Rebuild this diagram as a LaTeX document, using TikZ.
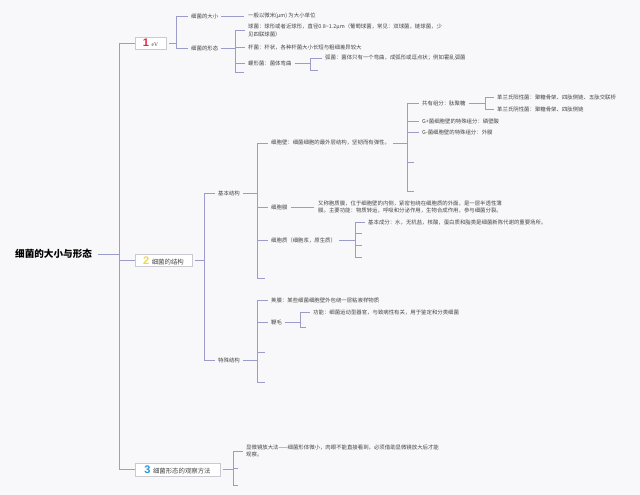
\documentclass[tikz,border=0pt]{standalone}
\usepackage{fontspec}
\newfontfamily\cjk{Noto Sans CJK SC}
\newfontfamily\numf{Liberation Sans}
\newfontfamily\serf{Liberation Serif}
\definecolor{bgc}{HTML}{F8F8FA}
\definecolor{lnc}{HTML}{9C9CCB}
\definecolor{txtc}{HTML}{454545}
\definecolor{boxc}{HTML}{CACAD2}
\definecolor{cone}{HTML}{E4253F}
\definecolor{ctwo}{HTML}{F2D64A}
\definecolor{cthree}{HTML}{2B95D6}
\tikzset{
  ln/.style={draw=lnc, line width=0.6pt},
  trunkln/.style={draw=lnc, line width=0.8pt},
  txt/.style={anchor=west, inner sep=0pt, font=\cjk\fontsize{5.4}{7.4}\selectfont, text=txtc, align=left},
  boxn/.style={draw=boxc, fill=white, line width=0.5pt, inner sep=0pt, font=\cjk\fontsize{6.4}{8}\selectfont, text=txtc},
  numtxt/.style={font=\numf\bfseries\fontsize{11}{11}\selectfont}
}
\newcommand\brk[3]{\draw[ln] ([xshift=3pt]#1.east) -- (#2) |- ([xshift=-3pt]#3.west);}
\newcommand\brke[3]{\draw[ln] ([xshift=3pt]#1.east) -- (#2) |- (#3);}
\newcommand\strt[2]{\draw[ln] ([xshift=3pt]#1.east) -- ([xshift=-4pt]#2.west);}
\begin{document}
\begin{tikzpicture}[x=1pt,y=-1pt]
\fill[bgc] (0,0) rectangle (640,495);
\useasboundingbox (0,0) rectangle (640,495);

% root
\node[anchor=west, inner sep=0pt, font=\cjk\bfseries\fontsize{9.6}{11}\selectfont, text=black] (root) at (15,254) {细菌的大小与形态};
\coordinate (T) at (119,254);

% main boxes
\node[boxn, minimum width=31pt, minimum height=12pt] (b1) at (150.5,43)
  {{\numf\bfseries\fontsize{11}{11}\selectfont\color{cone}1}\hspace{2.5pt}{\serf\fontsize{5.6}{6}\selectfont eV}};
\node[boxn, minimum width=57pt, minimum height=12pt] (b2) at (163.5,260.5)
  {{\numf\bfseries\fontsize{11}{11}\selectfont\color{ctwo}2}\hspace{2.5pt}细菌的结构};
\node[boxn, minimum width=85pt, minimum height=13pt] (b3) at (177.5,469.5)
  {{\numf\bfseries\fontsize{11}{11}\selectfont\color{cthree}3}\hspace{2.5pt}细菌形态的观察方法};

\draw[trunkln] ([xshift=6pt]root.east) -- (T);
\draw[trunkln] (T) |- (b1.west);
\draw[trunkln] (T) |- (b2.west);
\draw[trunkln] (T) |- (b3.west);

% ---------- branch 1
\coordinate (B1) at (176,43);
\node[txt] (n11) at (191,16) {细菌的大小};
\node[txt] (n12) at (191,48) {细菌的形态};
\brk{b1}{B1}{n11}
\brk{b1}{B1}{n12}

\node[txt] (n111) at (248,16) {一般以微米(μm) 为大小单位};
\strt{n11}{n111}

\coordinate (B12) at (235,48);
\node[txt] (n121) at (248,30.5) {球菌：球形或者近球形，直径0.8\textasciitilde 1.2μm（葡萄球菌，常见：双球菌，链球菌，少\\见四联球菌）};
\node[txt] (n122) at (248,47.5) {杆菌：杆状，各种杆菌大小长短与粗细差异较大};
\node[txt] (n123) at (248,63) {螺形菌：菌体弯曲};
\coordinate (e124) at (244,72);
\brk{n12}{B12}{n121}
\brk{n12}{B12}{n122}
\brk{n12}{B12}{n123}
\brke{n12}{B12}{e124}

\coordinate (B123) at (310,63);
\node[txt] (n1231) at (325,58) {弧菌：菌体只有一个弯曲，成弧形或逗点状；例如霍乱弧菌};
\coordinate (e1232) at (318,70);
\brk{n123}{B123}{n1231}
\brke{n123}{B123}{e1232}

% ---------- branch 2
\coordinate (B2) at (204,260.5);
\node[txt] (n21) at (218,193) {基本结构};
\node[txt] (n22) at (218,360) {特殊结构};
\brk{b2}{B2}{n21}
\brk{b2}{B2}{n22}

\coordinate (B21) at (257,193);
\node[txt] (n211) at (271,143) {细胞壁：细菌细胞的最外层结构，坚韧而有弹性。};
\node[txt] (n212) at (271,207) {细胞膜};
\node[txt] (n213) at (271,240.5) {细胞质（细胞浆，原生质）};
\coordinate (e214) at (265,278);
\brk{n21}{B21}{n211}
\brk{n21}{B21}{n212}
\brk{n21}{B21}{n213}
\brke{n21}{B21}{e214}

\coordinate (B211) at (407,143);
\node[txt] (n2111) at (422,103) {共有组分：肽聚糖};
\node[txt] (n2112) at (422,121) {G+菌细胞壁的特殊组分：磷壁酸};
\node[txt] (n2113) at (422,132) {G-菌细胞壁的特殊组分：外膜};
\coordinate (e2114) at (414,162);
\coordinate (e2115) at (414,191);
\brk{n211}{B211}{n2111}
\brk{n211}{B211}{n2112}
\brk{n211}{B211}{n2113}
\brke{n211}{B211}{e2114}
\brke{n211}{B211}{e2115}

\coordinate (B2111) at (485,103);
\node[txt] (n21111) at (497,97) {革兰氏阳性菌：聚糖骨架、四肽侧链、五肽交联桥};
\node[txt] (n21112) at (497,109) {革兰氏阴性菌：聚糖骨架、四肽侧链};
\brk{n2111}{B2111}{n21111}
\brk{n2111}{B2111}{n21112}

\node[txt] (n2121) at (318,207) {又称胞质膜，位于细胞壁的内侧，紧密包绕在细胞质的外面，是一层半透性薄\\膜。主要功能：物质转运，呼吸和分泌作用，生物合成作用，参与细菌分裂。};
\strt{n212}{n2121}

\coordinate (B213) at (355,240.5);
\node[txt] (n2131) at (368,222) {基本成分：水，无机盐，核酸，蛋白质和脂类是细菌新陈代谢的重要场所。};
\coordinate (e2132) at (362,233.5);
\coordinate (e2133) at (362,245.5);
\coordinate (e2134) at (362,257);
\brk{n213}{B213}{n2131}
\brke{n213}{B213}{e2132}
\brke{n213}{B213}{e2133}
\brke{n213}{B213}{e2134}

\coordinate (B22) at (257,360);
\node[txt] (n221) at (271,300) {荚膜：某些细菌细胞壁外包绕一层粘液样物质};
\node[txt] (n222) at (271,322) {鞭毛};
\coordinate (e223) at (265,352);
\coordinate (e224) at (265,382);
\brk{n22}{B22}{n221}
\brk{n22}{B22}{n222}
\brke{n22}{B22}{e223}
\brke{n22}{B22}{e224}

\coordinate (B222) at (300,322);
\node[txt] (n2221) at (313,312) {功能：细菌运动型器官，与致病性有关，用于鉴定和分类细菌};
\coordinate (e2222) at (306,327);
\brk{n222}{B222}{n2221}
\brke{n222}{B222}{e2222}

% ---------- branch 3
\coordinate (B3) at (233,469.5);
\node[txt] (n31) at (246,451) {显微镜放大法——细菌形体微小，肉眼不能直接看到，必须借助显微镜放大后才能\\观察。};
\coordinate (e32) at (238,468);
\coordinate (e33) at (238,485);
\brk{b3}{B3}{n31}
\brke{b3}{B3}{e32}
\brke{b3}{B3}{e33}
\end{tikzpicture}
\end{document}
